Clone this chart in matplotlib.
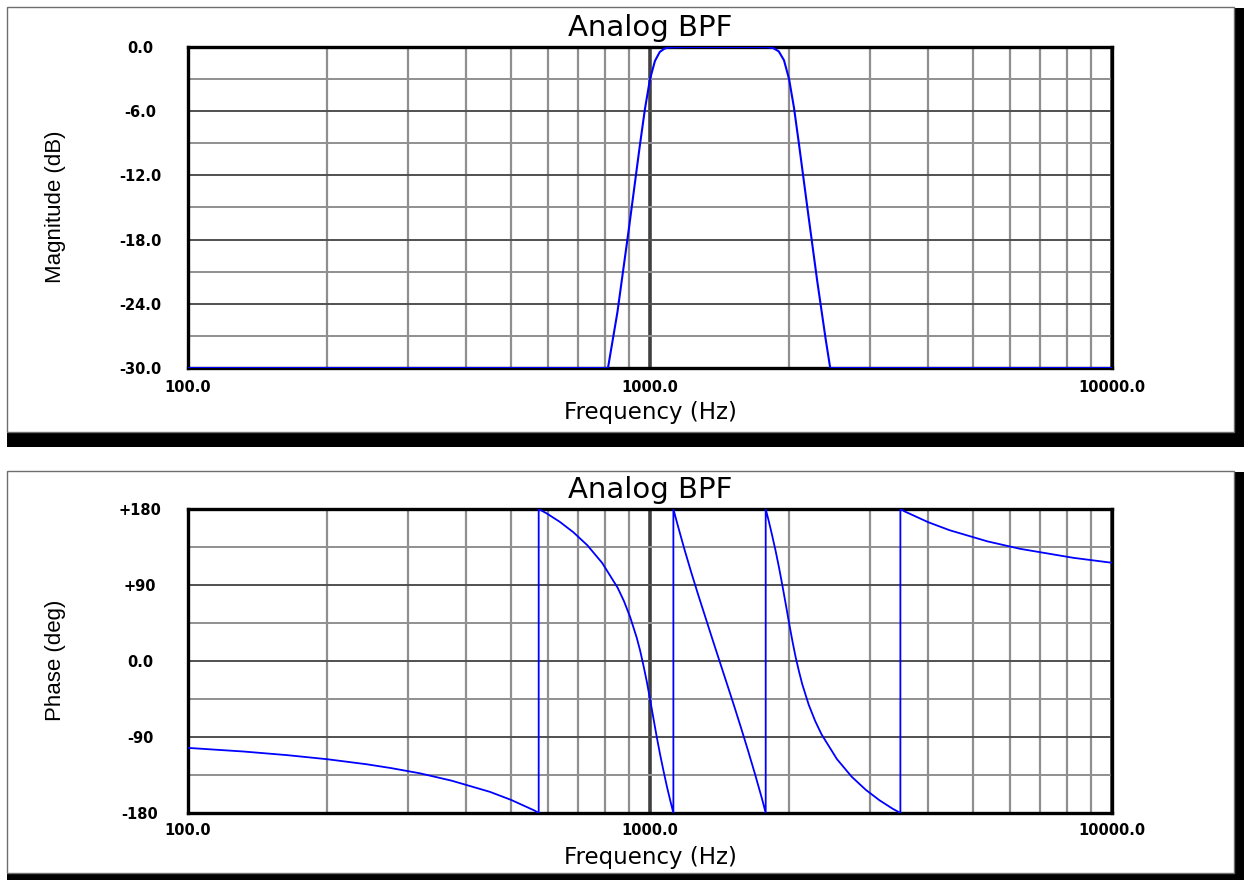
import matplotlib
matplotlib.use('Agg')
import matplotlib.pyplot as plt
from matplotlib.patches import Rectangle
from matplotlib.ticker import FixedLocator, NullFormatter, LogLocator, MultipleLocator

# ---------------- data ----------------
mag_freq = [100, 811, 850, 900, 950, 975, 1000, 1025, 1050, 1075, 1100, 1200,
            1414, 1700, 1800, 1850, 1900, 1950, 2000, 2050, 2100, 2200, 2300,
            2400, 2455, 10000]
mag_db = [-30, -30, -24.8, -17.0, -9.3, -5.8, -3.0, -1.3, -0.46, -0.15, -0.04, 0,
          0, 0, -0.02, -0.11, -0.41, -1.24, -3.0, -5.7, -9.0, -15.6, -21.8,
          -27.3, -30, -30]

phase_freq = [100, 132, 164, 200, 243, 275, 317, 372, 450, 500, 562, 574.2,
              574.2, 597.5, 637.5, 682, 732, 788, 851, 878, 906, 936, 951.6,
              967, 983.5, 1000, 1016.9, 1034, 1051.7, 1070, 1088, 1107,
              1123.6, 1123.6, 1146, 1186, 1228, 1272, 1318, 1365,
              1414, 1465, 1518, 1572, 1628, 1686, 1746, 1780, 1780, 1807, 1838,
              1870, 1902, 1934, 1967, 2000, 2033.5, 2067, 2102, 2136, 2206,
              2278, 2351, 2538, 2732, 2932, 3138, 3348, 3483,
              3483, 3562, 4000, 4450, 5372, 6317, 8243, 10000]
phase_deg = [-102.9, -107.2, -111.5, -116.3, -122.2, -126.8, -132.9, -141.7,
             -154.9, -164.4, -177.0, -180,
             180, 174.8, 164.9, 152.6, 137.0, 116.1, 86.8, 71.1, 51.9, 27.6, 12.7,
             -4.3, -23.6, -45.0, -67.4, -89.7, -110.8, -130.5, -148.8, -165.9,
             -180, 180, 162.4, 133.1, 105.1, 78.1, 51.8, 25.8,
             0.0, -25.8, -51.8, -78.1, -105.1, -133.1, -162.4, -180, 180, 165.9, 148.8,
             130.5, 110.8, 89.7, 67.4, 45.0, 23.6, 4.3, -12.7, -27.6, -51.9,
             -71.1, -86.8, -116.1, -137.0, -152.6, -164.9, -174.8, -180,
             180, 177.0, 164.4, 154.9, 141.7, 132.9, 122.2, 116.3]

mag_yticks = [0, -6, -12, -18, -24, -30]
mag_ylabels = ['0.0', '-6.0', '-12.0', '-18.0', '-24.0', '-30.0']
phase_yticks = [180, 90, 0, -90, -180]
phase_ylabels = ['+180', '+90', '0.0', '-90', '-180']
x_ticks = [100, 1000, 10000]
x_labels = ['100.0', '1000.0', '10000.0']
title_text = 'Analog BPF'
xlabel_text = 'Frequency (Hz)'
mag_ylabel = 'Magnitude (dB)'
phase_ylabel = 'Phase (deg)'

# ---------------- layout ----------------
W, H = 1244, 880
fig = plt.figure(figsize=(W / 100, H / 100), dpi=100)
fig.patch.set_facecolor('white')


def rect(x0, y0, x1, y1):
    """pixel box (top-left origin) -> figure fraction [l, b, w, h]"""
    return [x0 / W, 1 - y1 / H, (x1 - x0) / W, (y1 - y0) / H]


def fx(x):
    return x / W


def fy(y):
    return 1 - y / H


# panel frames with black shadow
for (sx0, sy0, sx1, sy1), (wx0, wy0, wx1, wy1) in [
        ((7, 8, 1244, 447), (7, 7, 1234, 432)),
        ((7, 472, 1244, 880), (7, 471, 1234, 873))]:
    l, b, w, h = rect(sx0, sy0, sx1, sy1)
    fig.add_artist(Rectangle((l, b), w, h, transform=fig.transFigure,
                             facecolor='black', edgecolor='none', zorder=-20))
    l, b, w, h = rect(wx0, wy0, wx1, wy1)
    fig.add_artist(Rectangle((l, b), w, h, transform=fig.transFigure,
                             facecolor='white', edgecolor='#6e6e6e',
                             linewidth=1.0, zorder=-19))

PX = 0.72  # points per pixel at 100 dpi


def setup_axes(ax, yticks, ylabels, ylim, minor_step, xpad_px):
    ax.set_facecolor('white')
    ax.set_xscale('log')
    ax.set_xlim(100, 10000)
    ax.set_ylim(*ylim)
    ax.xaxis.set_major_locator(FixedLocator(x_ticks))
    ax.xaxis.set_minor_locator(LogLocator(base=10, subs=range(2, 10)))
    ax.xaxis.set_minor_formatter(NullFormatter())
    ax.set_xticklabels(x_labels, fontsize=10.5, fontweight='bold',
                       family='DejaVu Sans', va='center')
    ax.yaxis.set_major_locator(FixedLocator(yticks))
    ax.yaxis.set_minor_locator(MultipleLocator(minor_step))
    ax.set_yticklabels(ylabels, fontsize=10.5, fontweight='bold',
                       family='DejaVu Sans', ha='center')
    ax.tick_params(axis='both', which='both', length=0)
    ax.tick_params(axis='x', which='major', pad=xpad_px * PX)
    ax.tick_params(axis='y', which='major', pad=48 * PX)
    ax.set_axisbelow(True)
    ax.grid(True, which='minor', axis='x', color='#8f8f8f', linewidth=1.6)
    ax.grid(True, which='major', axis='x', color='#404040', linewidth=2.6)
    ax.grid(True, which='major', axis='y', color='#505050', linewidth=1.4)
    ax.grid(True, which='minor', axis='y', color='#8f8f8f', linewidth=1.4)
    for s in ax.spines.values():
        s.set_linewidth(2.4)
        s.set_color('black')


ax1 = fig.add_axes(rect(188, 47, 1112, 368))
setup_axes(ax1, mag_yticks, mag_ylabels, (-30, 0), 3, 19)
ax1.plot(mag_freq, mag_db, color='#0000ff', linewidth=1.5, zorder=3)

ax2 = fig.add_axes(rect(188, 509, 1112, 813))
setup_axes(ax2, phase_yticks, phase_ylabels, (-180, 180), 45, 17)
ax2.plot(phase_freq, phase_deg, color='#0000ff', linewidth=1.3, zorder=3)

# titles and axis labels
for ty, xy, ly, ylab in [(36, 419, 207, mag_ylabel), (498, 864, 660, phase_ylabel)]:
    fig.text(fx(650), fy(ty), title_text, ha='center', va='baseline',
             fontsize=21, family='DejaVu Sans', color='black')
    fig.text(fx(650), fy(xy), xlabel_text, ha='center', va='baseline',
             fontsize=16.5, family='DejaVu Sans', color='black')
    fig.text(fx(55), fy(ly), ylab, ha='center', va='center', rotation=90,
             fontsize=16, family='Liberation Sans', color='black')

fig.savefig('out.png', dpi=100, facecolor='white')
